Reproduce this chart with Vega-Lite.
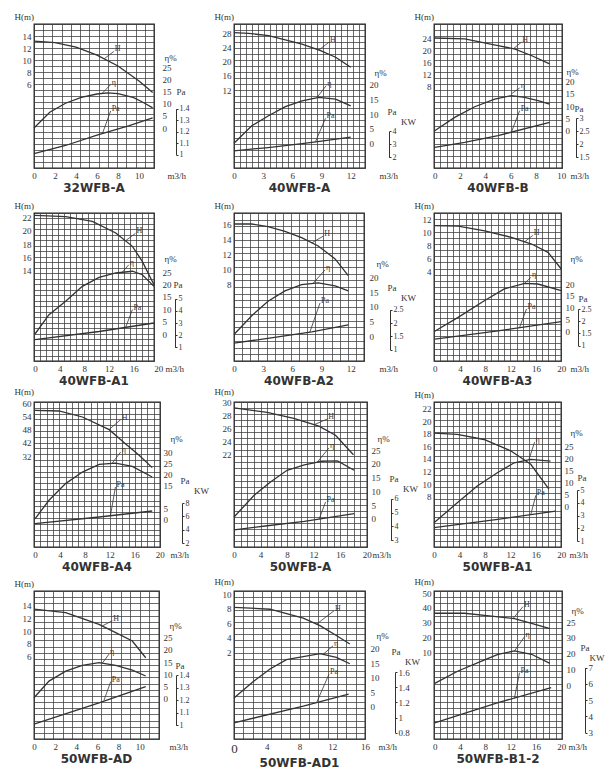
{
"$schema":"https://vega.github.io/schema/vega-lite/v6.json",
"background":"white",
"padding":{"left":13,"top":11,"right":0,"bottom":0},
"columns":3,
"spacing":{"row":41,"column":67},
"bounds":"flush",
"align":"all",
"datasets":{
"g":[
{"p":"32WFB-A","cols":13,"rows":24},{"p":"40WFB-A","cols":22,"rows":24},{"p":"40WFB-B","cols":20,"rows":24},
{"p":"40WFB-A1","cols":20,"rows":27},{"p":"40WFB-A2","cols":16,"rows":22},{"p":"40WFB-A3","cols":20,"rows":24},
{"p":"40WFB-A4","cols":20,"rows":25},{"p":"50WFB-A","cols":20,"rows":24},{"p":"50WFB-A1","cols":20,"rows":24},
{"p":"50WFB-AD","cols":13,"rows":24},{"p":"50WFB-AD1","cols":14,"rows":24},{"p":"50WFB-B1-2","cols":20,"rows":24}],
"c":[
{"p":"32WFB-A","c":"H","q":0,"v":13.2},{"p":"32WFB-A","c":"H","q":2,"v":12.95},{"p":"32WFB-A","c":"H","q":4,"v":12.2},{"p":"32WFB-A","c":"H","q":6,"v":10.9},{"p":"32WFB-A","c":"H","q":8,"v":9.1},{"p":"32WFB-A","c":"H","q":10,"v":6.6},{"p":"32WFB-A","c":"H","q":11.3,"v":4.7},
{"p":"32WFB-A","c":"E","q":0,"v":0},{"p":"32WFB-A","c":"E","q":1.5,"v":6.5},{"p":"32WFB-A","c":"E","q":3,"v":10.2},{"p":"32WFB-A","c":"E","q":4.5,"v":12.6},{"p":"32WFB-A","c":"E","q":6,"v":14},{"p":"32WFB-A","c":"E","q":7,"v":14.5},{"p":"32WFB-A","c":"E","q":8,"v":14.2},{"p":"32WFB-A","c":"E","q":9.5,"v":12.5},{"p":"32WFB-A","c":"E","q":10.5,"v":10.3},{"p":"32WFB-A","c":"E","q":11.3,"v":8.3},
{"p":"32WFB-A","c":"P","q":0,"v":1.01},{"p":"32WFB-A","c":"P","q":3,"v":1.08},{"p":"32WFB-A","c":"P","q":6,"v":1.17},{"p":"32WFB-A","c":"P","q":9,"v":1.25},{"p":"32WFB-A","c":"P","q":11.3,"v":1.32},
{"p":"32WFB-A","c":"H","n":1,"q":6.7,"v":10.3},{"p":"32WFB-A","c":"H","n":1,"q":7.6,"v":11.5,"t":"H"},
{"p":"32WFB-A","c":"E","n":1,"q":6.5,"v":14.3},{"p":"32WFB-A","c":"E","n":1,"q":7.3,"v":17.9,"t":"η"},
{"p":"32WFB-A","c":"P","n":1,"q":6.5,"v":1.18},{"p":"32WFB-A","c":"P","n":1,"q":7.3,"v":1.38,"t":"Pa"},

{"p":"40WFB-A","c":"H","q":0,"v":28.1},{"p":"40WFB-A","c":"H","q":1.5,"v":27.9},{"p":"40WFB-A","c":"H","q":3.55,"v":27.25},{"p":"40WFB-A","c":"H","q":7,"v":24.9},{"p":"40WFB-A","c":"H","q":8.9,"v":23.05},{"p":"40WFB-A","c":"H","q":10.45,"v":21.2},{"p":"40WFB-A","c":"H","q":12,"v":18.4},
{"p":"40WFB-A","c":"E","q":0,"v":0},{"p":"40WFB-A","c":"E","q":1.83,"v":6},{"p":"40WFB-A","c":"E","q":3.55,"v":9.4},{"p":"40WFB-A","c":"E","q":5.28,"v":12.5},{"p":"40WFB-A","c":"E","q":7,"v":14.5},{"p":"40WFB-A","c":"E","q":8.72,"v":15.7},{"p":"40WFB-A","c":"E","q":10.45,"v":15.1},{"p":"40WFB-A","c":"E","q":12,"v":12.8},
{"p":"40WFB-A","c":"P","q":0,"v":2.5},{"p":"40WFB-A","c":"P","q":3.5,"v":2.75},{"p":"40WFB-A","c":"P","q":7,"v":3.05},{"p":"40WFB-A","c":"P","q":9,"v":3.25},{"p":"40WFB-A","c":"P","q":12,"v":3.55},
{"p":"40WFB-A","c":"H","n":1,"q":8.72,"v":23.2},{"p":"40WFB-A","c":"H","n":1,"q":9.76,"v":25.4,"t":"H"},
{"p":"40WFB-A","c":"E","n":1,"q":8.55,"v":15.7},{"p":"40WFB-A","c":"E","n":1,"q":9.48,"v":19.7,"t":"η"},
{"p":"40WFB-A","c":"P","n":1,"q":8.38,"v":3.2},{"p":"40WFB-A","c":"P","n":1,"q":9.41,"v":5.0,"t":"Pa"},

{"p":"40WFB-B","c":"H","q":0,"v":24},{"p":"40WFB-B","c":"H","q":2.37,"v":23.7},{"p":"40WFB-B","c":"H","q":5,"v":21.5},{"p":"40WFB-B","c":"H","q":6.3,"v":20.4},{"p":"40WFB-B","c":"H","q":7.63,"v":18.2},{"p":"40WFB-B","c":"H","q":9.08,"v":15.4},
{"p":"40WFB-B","c":"E","q":0,"v":0},{"p":"40WFB-B","c":"E","q":1.58,"v":5.4},{"p":"40WFB-B","c":"E","q":3.16,"v":9.7},{"p":"40WFB-B","c":"E","q":4.74,"v":12.8},{"p":"40WFB-B","c":"E","q":6.05,"v":14.2},{"p":"40WFB-B","c":"E","q":7.1,"v":13.5},{"p":"40WFB-B","c":"E","q":8.16,"v":12.2},{"p":"40WFB-B","c":"E","q":9.08,"v":10.8},
{"p":"40WFB-B","c":"P","q":0,"v":1.88},{"p":"40WFB-B","c":"P","q":2.37,"v":2.07},{"p":"40WFB-B","c":"P","q":5,"v":2.33},{"p":"40WFB-B","c":"P","q":9.08,"v":2.83},
{"p":"40WFB-B","c":"H","n":1,"q":6.18,"v":20.3},{"p":"40WFB-B","c":"H","n":1,"q":6.84,"v":22.6,"t":"H"},
{"p":"40WFB-B","c":"E","n":1,"q":6.05,"v":14.9},{"p":"40WFB-B","c":"E","n":1,"q":6.71,"v":17.3,"t":"η"},
{"p":"40WFB-B","c":"P","n":1,"q":6.05,"v":2.45},{"p":"40WFB-B","c":"P","n":1,"q":6.71,"v":3.28,"t":"Pa"},

{"p":"40WFB-A1","c":"H","q":0,"v":22.3},{"p":"40WFB-A1","c":"H","q":4.97,"v":22.1},{"p":"40WFB-A1","c":"H","q":9.3,"v":21.4},{"p":"40WFB-A1","c":"H","q":13.1,"v":19.65},{"p":"40WFB-A1","c":"H","q":15.8,"v":17.65},{"p":"40WFB-A1","c":"H","q":17.4,"v":15.4},{"p":"40WFB-A1","c":"H","q":19.3,"v":11.9},
{"p":"40WFB-A1","c":"E","q":0,"v":0},{"p":"40WFB-A1","c":"E","q":2.27,"v":7.8},{"p":"40WFB-A1","c":"E","q":4.97,"v":13.2},{"p":"40WFB-A1","c":"E","q":7.68,"v":19.2},{"p":"40WFB-A1","c":"E","q":10.4,"v":22.8},{"p":"40WFB-A1","c":"E","q":13.1,"v":24.6},{"p":"40WFB-A1","c":"E","q":15.8,"v":25.3},{"p":"40WFB-A1","c":"E","q":17.4,"v":23.9},{"p":"40WFB-A1","c":"E","q":19.3,"v":19.2},
{"p":"40WFB-A1","c":"P","q":0,"v":1.63},{"p":"40WFB-A1","c":"P","q":10.4,"v":2.3},{"p":"40WFB-A1","c":"P","q":19.3,"v":3.0},
{"p":"40WFB-A1","c":"H","n":1,"q":14.7,"v":18.5},{"p":"40WFB-A1","c":"H","n":1,"q":16.3,"v":19.6,"t":"H"},
{"p":"40WFB-A1","c":"E","n":1,"q":14.16,"v":24.9},{"p":"40WFB-A1","c":"E","n":1,"q":15.2,"v":27.9,"t":"η"},
{"p":"40WFB-A1","c":"P","n":1,"q":14.7,"v":2.64},{"p":"40WFB-A1","c":"P","n":1,"q":15.8,"v":4.1,"t":"Pa"},

{"p":"40WFB-A2","c":"H","q":0,"v":16},{"p":"40WFB-A2","c":"H","q":1.8,"v":16},{"p":"40WFB-A2","c":"H","q":3.5,"v":15.66},{"p":"40WFB-A2","c":"H","q":5.24,"v":15.03},{"p":"40WFB-A2","c":"H","q":6.95,"v":14.2},{"p":"40WFB-A2","c":"H","q":8.66,"v":13.1},{"p":"40WFB-A2","c":"H","q":10.4,"v":11.4},{"p":"40WFB-A2","c":"H","q":11.75,"v":9.2},
{"p":"40WFB-A2","c":"E","q":0,"v":0.6},{"p":"40WFB-A2","c":"E","q":1.8,"v":6.9},{"p":"40WFB-A2","c":"E","q":3.5,"v":11.9},{"p":"40WFB-A2","c":"E","q":5.24,"v":15.4},{"p":"40WFB-A2","c":"E","q":6.95,"v":17.5},{"p":"40WFB-A2","c":"E","q":8.66,"v":18.1},{"p":"40WFB-A2","c":"E","q":10.4,"v":17.1},{"p":"40WFB-A2","c":"E","q":11.75,"v":15.4},
{"p":"40WFB-A2","c":"P","q":0,"v":1.25},{"p":"40WFB-A2","c":"P","q":4,"v":1.45},{"p":"40WFB-A2","c":"P","q":8,"v":1.67},{"p":"40WFB-A2","c":"P","q":11.75,"v":1.93},
{"p":"40WFB-A2","c":"H","n":1,"q":7.98,"v":13.5},{"p":"40WFB-A2","c":"H","n":1,"q":9.18,"v":14.4,"t":"H"},
{"p":"40WFB-A2","c":"E","n":1,"q":8.15,"v":18},{"p":"40WFB-A2","c":"E","n":1,"q":9.35,"v":22.5,"t":"η"},
{"p":"40WFB-A2","c":"P","n":1,"q":7.8,"v":1.66},{"p":"40WFB-A2","c":"P","n":1,"q":8.84,"v":2.75,"t":"Pa"},

{"p":"40WFB-A3","c":"H","q":0,"v":11},{"p":"40WFB-A3","c":"H","q":3.7,"v":10.9},{"p":"40WFB-A3","c":"H","q":7.9,"v":10.2},{"p":"40WFB-A3","c":"H","q":12.1,"v":9.2},{"p":"40WFB-A3","c":"H","q":15.3,"v":8.17},{"p":"40WFB-A3","c":"H","q":17.9,"v":6.9},{"p":"40WFB-A3","c":"H","q":20,"v":4.35},
{"p":"40WFB-A3","c":"E","q":0,"v":0},{"p":"40WFB-A3","c":"E","q":3.7,"v":5.9},{"p":"40WFB-A3","c":"E","q":7.9,"v":13},{"p":"40WFB-A3","c":"E","q":11,"v":17.9},{"p":"40WFB-A3","c":"E","q":14.2,"v":20.3},{"p":"40WFB-A3","c":"E","q":16.3,"v":20},{"p":"40WFB-A3","c":"E","q":20,"v":17.2},
{"p":"40WFB-A3","c":"P","q":0,"v":1.27},{"p":"40WFB-A3","c":"P","q":10,"v":1.61},{"p":"40WFB-A3","c":"P","q":20,"v":1.98},
{"p":"40WFB-A3","c":"H","n":1,"q":14.2,"v":8.5},{"p":"40WFB-A3","c":"H","n":1,"q":15.5,"v":9.5,"t":"H"},
{"p":"40WFB-A3","c":"E","n":1,"q":14.2,"v":20.3},{"p":"40WFB-A3","c":"E","n":1,"q":15.2,"v":22.8,"t":"η"},
{"p":"40WFB-A3","c":"P","n":1,"q":13.4,"v":1.74},{"p":"40WFB-A3","c":"P","n":1,"q":14.5,"v":2.5,"t":"Pa"},

{"p":"40WFB-A4","c":"H","q":0,"v":56.7},{"p":"40WFB-A4","c":"H","q":3.85,"v":56.4},{"p":"40WFB-A4","c":"H","q":7.6,"v":53.7},{"p":"40WFB-A4","c":"H","q":11.9,"v":48},{"p":"40WFB-A4","c":"H","q":14.5,"v":41.7},{"p":"40WFB-A4","c":"H","q":16.7,"v":36.5},{"p":"40WFB-A4","c":"H","q":18.8,"v":30.9},
{"p":"40WFB-A4","c":"E","q":0,"v":0.4},{"p":"40WFB-A4","c":"E","q":2.25,"v":8.6},{"p":"40WFB-A4","c":"E","q":4.9,"v":16},{"p":"40WFB-A4","c":"E","q":7.6,"v":21.1},{"p":"40WFB-A4","c":"E","q":10.3,"v":24.5},{"p":"40WFB-A4","c":"E","q":12.9,"v":25.1},{"p":"40WFB-A4","c":"E","q":15.6,"v":23.6},{"p":"40WFB-A4","c":"E","q":18.8,"v":18.9},
{"p":"40WFB-A4","c":"P","q":0,"v":4.9},{"p":"40WFB-A4","c":"P","q":10.3,"v":5.9},{"p":"40WFB-A4","c":"P","q":18.8,"v":6.8},
{"p":"40WFB-A4","c":"H","n":1,"q":11.87,"v":48},{"p":"40WFB-A4","c":"H","n":1,"q":13.74,"v":52.5,"t":"H"},
{"p":"40WFB-A4","c":"E","n":1,"q":12.4,"v":25.1},{"p":"40WFB-A4","c":"E","n":1,"q":13.74,"v":30,"t":"η"},
{"p":"40WFB-A4","c":"P","n":1,"q":12.1,"v":6.1},{"p":"40WFB-A4","c":"P","n":1,"q":12.9,"v":10.4,"t":"Pa"},

{"p":"50WFB-A","c":"H","q":0,"v":29.2},{"p":"50WFB-A","c":"H","q":5,"v":28.5},{"p":"50WFB-A","c":"H","q":9,"v":27.6},{"p":"50WFB-A","c":"H","q":12.8,"v":26.4},{"p":"50WFB-A","c":"H","q":15.3,"v":25},{"p":"50WFB-A","c":"H","q":18,"v":22},
{"p":"50WFB-A","c":"E","q":0,"v":0.6},{"p":"50WFB-A","c":"E","q":3,"v":8.5},{"p":"50WFB-A","c":"E","q":5.5,"v":13.4},{"p":"50WFB-A","c":"E","q":8,"v":17.7},{"p":"50WFB-A","c":"E","q":10.6,"v":19.7},{"p":"50WFB-A","c":"E","q":12.1,"v":20.4},{"p":"50WFB-A","c":"E","q":13.1,"v":21},{"p":"50WFB-A","c":"E","q":15.6,"v":21.1},{"p":"50WFB-A","c":"E","q":18.1,"v":17.7},
{"p":"50WFB-A","c":"P","q":0,"v":3.75},{"p":"50WFB-A","c":"P","q":5,"v":4.05},{"p":"50WFB-A","c":"P","q":10.6,"v":4.37},{"p":"50WFB-A","c":"P","q":18.1,"v":4.92},
{"p":"50WFB-A","c":"H","n":1,"q":12.06,"v":26.6},{"p":"50WFB-A","c":"H","n":1,"q":14.07,"v":27.5,"t":"H"},
{"p":"50WFB-A","c":"E","n":1,"q":12.56,"v":20.7},{"p":"50WFB-A","c":"E","n":1,"q":14.3,"v":25.8,"t":"η"},
{"p":"50WFB-A","c":"P","n":1,"q":12.8,"v":4.5},{"p":"50WFB-A","c":"P","n":1,"q":13.8,"v":5.76,"t":"Pa"},

{"p":"50WFB-A1","c":"H","q":0,"v":18.1},{"p":"50WFB-A1","c":"H","q":3.66,"v":17.9},{"p":"50WFB-A1","c":"H","q":7.85,"v":17.1},{"p":"50WFB-A1","c":"H","q":12.04,"v":15.3},{"p":"50WFB-A1","c":"H","q":15.2,"v":13.15},{"p":"50WFB-A1","c":"H","q":18.06,"v":9.2},
{"p":"50WFB-A1","c":"E","q":0,"v":-6.6},{"p":"50WFB-A1","c":"E","q":3.66,"v":1.6},{"p":"50WFB-A1","c":"E","q":6.8,"v":8.5},{"p":"50WFB-A1","c":"E","q":9.95,"v":14},{"p":"50WFB-A1","c":"E","q":12.6,"v":18.1},{"p":"50WFB-A1","c":"E","q":15.2,"v":19.5},{"p":"50WFB-A1","c":"E","q":18.3,"v":18.8},
{"p":"50WFB-A1","c":"P","q":0,"v":2.05},{"p":"50WFB-A1","c":"P","q":10,"v":2.7},{"p":"50WFB-A1","c":"P","q":19.1,"v":3.35},
{"p":"50WFB-A1","c":"E","n":1,"q":14.9,"v":19.3},{"p":"50WFB-A1","c":"E","n":1,"q":15.8,"v":26.6,"t":"η"},
{"p":"50WFB-A1","c":"P","n":1,"q":15.2,"v":3.07},{"p":"50WFB-A1","c":"P","n":1,"q":16,"v":4.58,"t":"Pa"},

{"p":"50WFB-AD","c":"H","q":0,"v":13.4},{"p":"50WFB-AD","c":"H","q":3,"v":12.86},{"p":"50WFB-AD","c":"H","q":6.15,"v":11.04},{"p":"50WFB-AD","c":"H","q":7.73,"v":9.74},{"p":"50WFB-AD","c":"H","q":9.3,"v":8.44},{"p":"50WFB-AD","c":"H","q":10.57,"v":5.84},
{"p":"50WFB-AD","c":"E","q":0,"v":0.4},{"p":"50WFB-AD","c":"E","q":1.42,"v":7.2},{"p":"50WFB-AD","c":"E","q":3,"v":11.3},{"p":"50WFB-AD","c":"E","q":4.57,"v":13.7},{"p":"50WFB-AD","c":"E","q":6.15,"v":14.75},{"p":"50WFB-AD","c":"E","q":7.73,"v":13.7},{"p":"50WFB-AD","c":"E","q":9.3,"v":11.7},{"p":"50WFB-AD","c":"E","q":10.57,"v":9.3},
{"p":"50WFB-AD","c":"P","q":0,"v":1.01},{"p":"50WFB-AD","c":"P","q":6.15,"v":1.18},{"p":"50WFB-AD","c":"P","q":10.57,"v":1.31},
{"p":"50WFB-AD","c":"H","n":1,"q":6.47,"v":10.8},{"p":"50WFB-AD","c":"H","n":1,"q":7.41,"v":11.6,"t":"H"},
{"p":"50WFB-AD","c":"E","n":1,"q":6.47,"v":14.6},{"p":"50WFB-AD","c":"E","n":1,"q":7.1,"v":18.3,"t":"η"},
{"p":"50WFB-AD","c":"P","n":1,"q":6.62,"v":1.2},{"p":"50WFB-AD","c":"P","n":1,"q":7.26,"v":1.35,"t":"Pa"},

{"p":"50WFB-AD1","c":"H","q":0,"v":8.2},{"p":"50WFB-AD1","c":"H","q":4.4,"v":7.93},{"p":"50WFB-AD1","c":"H","q":8.46,"v":6.69},{"p":"50WFB-AD1","c":"H","q":10.5,"v":5.66},{"p":"50WFB-AD1","c":"H","q":12.5,"v":4.28},{"p":"50WFB-AD1","c":"H","q":14.15,"v":3.1},
{"p":"50WFB-AD1","c":"E","q":0,"v":3},{"p":"50WFB-AD1","c":"E","q":2.36,"v":8.7},{"p":"50WFB-AD1","c":"E","q":4.4,"v":13},{"p":"50WFB-AD1","c":"E","q":6.4,"v":16.2},{"p":"50WFB-AD1","c":"E","q":8.46,"v":17.3},{"p":"50WFB-AD1","c":"E","q":10.5,"v":18.3},{"p":"50WFB-AD1","c":"E","q":12.5,"v":17},{"p":"50WFB-AD1","c":"E","q":14.15,"v":14.8},
{"p":"50WFB-AD1","c":"P","q":0,"v":0.93},{"p":"50WFB-AD1","c":"P","q":8.46,"v":1.15},{"p":"50WFB-AD1","c":"P","q":14,"v":1.31},
{"p":"50WFB-AD1","c":"H","n":1,"q":10.1,"v":5.87},{"p":"50WFB-AD1","c":"H","n":1,"q":12.2,"v":7.7,"t":"H"},
{"p":"50WFB-AD1","c":"E","n":1,"q":10.9,"v":18.1},{"p":"50WFB-AD1","c":"E","n":1,"q":12.1,"v":21,"t":"η"},
{"p":"50WFB-AD1","c":"P","n":1,"q":10.1,"v":1.2},{"p":"50WFB-AD1","c":"P","n":1,"q":11.6,"v":1.57,"t":"Pa"},

{"p":"50WFB-B1-2","c":"H","q":0,"v":36.4},{"p":"50WFB-B1-2","c":"H","q":4.7,"v":36.4},{"p":"50WFB-B1-2","c":"H","q":8.95,"v":34.5},{"p":"50WFB-B1-2","c":"H","q":12.6,"v":32.7},{"p":"50WFB-B1-2","c":"H","q":15.3,"v":29.5},{"p":"50WFB-B1-2","c":"H","q":18.2,"v":25.9},
{"p":"50WFB-B1-2","c":"E","q":0,"v":1.06},{"p":"50WFB-B1-2","c":"E","q":3.7,"v":8.9},{"p":"50WFB-B1-2","c":"E","q":7.4,"v":15.2},{"p":"50WFB-B1-2","c":"E","q":10,"v":19.5},{"p":"50WFB-B1-2","c":"E","q":12.6,"v":21.6},{"p":"50WFB-B1-2","c":"E","q":15.3,"v":19.5},{"p":"50WFB-B1-2","c":"E","q":18.2,"v":13.7},
{"p":"50WFB-B1-2","c":"P","q":0,"v":3.6},{"p":"50WFB-B1-2","c":"P","q":10,"v":4.85},{"p":"50WFB-B1-2","c":"P","q":18.4,"v":5.77},
{"p":"50WFB-B1-2","c":"H","n":1,"q":12.37,"v":32.8},{"p":"50WFB-B1-2","c":"H","n":1,"q":13.95,"v":40.9,"t":"H"},
{"p":"50WFB-B1-2","c":"E","n":1,"q":12.6,"v":21.6},{"p":"50WFB-B1-2","c":"E","n":1,"q":14.2,"v":30.7,"t":"η"},
{"p":"50WFB-B1-2","c":"P","n":1,"q":12.6,"v":5.15},{"p":"50WFB-B1-2","c":"P","n":1,"q":13.4,"v":6.69,"t":"Pa"}
]},
"concat":[
{"width":120,"height":144,"title":{"text":"32WFB-A"},"resolve":{"scale":{"x":"independent","y":"independent"},"axis":{"x":"independent","y":"independent"}},"layer":[
{"data":{"name":"g"},"transform":[{"filter":"datum.p=='32WFB-A'"}],"mark":{"type":"point","opacity":0},"encoding":{"x":{"field":"cols","type":"quantitative","scale":{"domain":[0,13],"nice":false,"zero":false},"axis":{"orient":"bottom","grid":true,"labels":false,"tickCount":13,"title":null}},"y":{"field":"rows","type":"quantitative","scale":{"domain":[0,24],"nice":false,"zero":false},"axis":{"orient":"left","grid":true,"labels":false,"tickCount":24,"title":null}}}},
{"data":{"name":"c"},"transform":[{"filter":"datum.p=='32WFB-A'&&datum.c=='H'"}],"encoding":{"x":{"field":"q","type":"quantitative","scale":{"domain":[0,10],"range":[0,105],"nice":false,"zero":false},"axis":{"orient":"bottom","values":[0,2,4,6,8,10],"format":".2~f","title":"m3/h","titleX":133}},"y":{"field":"v","type":"quantitative","scale":{"domain":[6,14],"range":[60.7,12.3],"nice":false,"zero":false},"axis":{"orient":"left","values":[6,8,10,12,14],"format":".2~f","title":"H(m)"}}},"layer":[{"transform":[{"filter":"!datum.n"}],"mark":"line"},{"transform":[{"filter":"datum.n"}],"mark":{"type":"line","strokeWidth":0.8}},{"transform":[{"filter":"datum.t"}],"mark":"text","encoding":{"text":{"field":"t"}}}]},
{"data":{"name":"c"},"transform":[{"filter":"datum.p=='32WFB-A'&&datum.c=='E'"}],"encoding":{"x":{"field":"q","type":"quantitative","scale":{"domain":[0,10],"range":[0,105],"nice":false,"zero":false},"axis":null},"y":{"field":"v","type":"quantitative","scale":{"domain":[0,25],"range":[104,43.3],"nice":false,"zero":false},"axis":{"orient":"right","offset":5,"values":[0,5,10,15,20,25],"format":".2~f","title":"η%","titleX":5,"titleY":33}}},"layer":[{"transform":[{"filter":"!datum.n"}],"mark":"line"},{"transform":[{"filter":"datum.n"}],"mark":{"type":"line","strokeWidth":0.8}},{"transform":[{"filter":"datum.t"}],"mark":"text","encoding":{"text":{"field":"t"}}}]},
{"data":{"name":"c"},"transform":[{"filter":"datum.p=='32WFB-A'&&datum.c=='P'"}],"encoding":{"x":{"field":"q","type":"quantitative","scale":{"domain":[0,10],"range":[0,105],"nice":false,"zero":false},"axis":null},"y":{"field":"v","type":"quantitative","scale":{"domain":[1,1.4],"range":[130.7,84.7],"nice":false,"zero":false},"axis":{"orient":"right","offset":22,"values":[1,1.1,1.2,1.3,1.4],"format":".2~f","domain":true,"ticks":true,"tickSize":2,"labelPadding":1,"labelFontSize":8,"title":"Pa","titleX":0,"titleY":67}}},"layer":[{"transform":[{"filter":"!datum.n"}],"mark":"line"},{"transform":[{"filter":"datum.n"}],"mark":{"type":"line","strokeWidth":0.8}},{"transform":[{"filter":"datum.t"}],"mark":"text","encoding":{"text":{"field":"t"}}}]}
]},
{"width":131,"height":144,"title":{"text":"40WFB-A"},"resolve":{"scale":{"x":"independent","y":"independent"},"axis":{"x":"independent","y":"independent"}},"layer":[
{"data":{"name":"g"},"transform":[{"filter":"datum.p=='40WFB-A'"}],"mark":{"type":"point","opacity":0},"encoding":{"x":{"field":"cols","type":"quantitative","scale":{"domain":[0,22],"nice":false,"zero":false},"axis":{"orient":"bottom","grid":true,"labels":false,"tickCount":22,"title":null}},"y":{"field":"rows","type":"quantitative","scale":{"domain":[0,24],"nice":false,"zero":false},"axis":{"orient":"left","grid":true,"labels":false,"tickCount":24,"title":null}}}},
{"data":{"name":"c"},"transform":[{"filter":"datum.p=='40WFB-A'&&datum.c=='H'"}],"encoding":{"x":{"field":"q","type":"quantitative","scale":{"domain":[0,12],"range":[0,116.7],"nice":false,"zero":false},"axis":{"orient":"bottom","values":[0,3,6,9,12],"format":".2~f","title":"m3/h","titleX":145}},"y":{"field":"v","type":"quantitative","scale":{"domain":[12,28],"range":[66,9],"nice":false,"zero":false},"axis":{"orient":"left","values":[12,16,20,24,28],"format":".2~f","title":"H(m)"}}},"layer":[{"transform":[{"filter":"!datum.n"}],"mark":"line"},{"transform":[{"filter":"datum.n"}],"mark":{"type":"line","strokeWidth":0.8}},{"transform":[{"filter":"datum.t"}],"mark":"text","encoding":{"text":{"field":"t"}}}]},
{"data":{"name":"c"},"transform":[{"filter":"datum.p=='40WFB-A'&&datum.c=='E'"}],"encoding":{"x":{"field":"q","type":"quantitative","scale":{"domain":[0,12],"range":[0,116.7],"nice":false,"zero":false},"axis":null},"y":{"field":"v","type":"quantitative","scale":{"domain":[0,20],"range":[119.3,60.7],"nice":false,"zero":false},"axis":{"orient":"right","offset":1,"values":[0,5,10,15,20],"format":".2~f","title":"η%","titleX":8,"titleY":48}}},"layer":[{"transform":[{"filter":"!datum.n"}],"mark":"line"},{"transform":[{"filter":"datum.n"}],"mark":{"type":"line","strokeWidth":0.8}},{"transform":[{"filter":"datum.t"}],"mark":"text","encoding":{"text":{"field":"t"}}}]},
{"data":{"name":"c"},"transform":[{"filter":"datum.p=='40WFB-A'&&datum.c=='P'"}],"encoding":{"x":{"field":"q","type":"quantitative","scale":{"domain":[0,12],"range":[0,116.7],"nice":false,"zero":false},"axis":null},"y":{"field":"v","type":"quantitative","scale":{"domain":[2,4],"range":[133.3,107.3],"nice":false,"zero":false},"axis":{"orient":"right","offset":24,"values":[2,3,4],"format":".2~f","domain":true,"ticks":true,"tickSize":2,"labelPadding":1,"labelFontSize":8,"title":["Pa","\u200b\u00a0\u00a0\u00a0\u00a0\u00a0\u00a0KW"],"titleLineHeight":10,"titleX":-2,"titleY":87}}},"layer":[{"transform":[{"filter":"!datum.n"}],"mark":"line"},{"transform":[{"filter":"datum.n"}],"mark":{"type":"line","strokeWidth":0.8}},{"transform":[{"filter":"datum.t"}],"mark":"text","encoding":{"text":{"field":"t"}}}]}
]},
{"width":128,"height":144,"title":{"text":"40WFB-B"},"resolve":{"scale":{"x":"independent","y":"independent"},"axis":{"x":"independent","y":"independent"}},"layer":[
{"data":{"name":"g"},"transform":[{"filter":"datum.p=='40WFB-B'"}],"mark":{"type":"point","opacity":0},"encoding":{"x":{"field":"cols","type":"quantitative","scale":{"domain":[0,20],"nice":false,"zero":false},"axis":{"orient":"bottom","grid":true,"labels":false,"tickCount":20,"title":null}},"y":{"field":"rows","type":"quantitative","scale":{"domain":[0,24],"nice":false,"zero":false},"axis":{"orient":"left","grid":true,"labels":false,"tickCount":24,"title":null}}}},
{"data":{"name":"c"},"transform":[{"filter":"datum.p=='40WFB-B'&&datum.c=='H'"}],"encoding":{"x":{"field":"q","type":"quantitative","scale":{"domain":[0,10],"range":[0.7,127.3],"nice":false,"zero":false},"axis":{"orient":"bottom","values":[0,2,4,6,8,10],"format":".2~f","title":"m3/h","titleX":136}},"y":{"field":"v","type":"quantitative","scale":{"domain":[8,24],"range":[62.3,14],"nice":false,"zero":false},"axis":{"orient":"left","values":[8,12,16,20,24],"format":".2~f","title":"H(m)"}}},"layer":[{"transform":[{"filter":"!datum.n"}],"mark":"line"},{"transform":[{"filter":"datum.n"}],"mark":{"type":"line","strokeWidth":0.8}},{"transform":[{"filter":"datum.t"}],"mark":"text","encoding":{"text":{"field":"t"}}}]},
{"data":{"name":"c"},"transform":[{"filter":"datum.p=='40WFB-B'&&datum.c=='E'"}],"encoding":{"x":{"field":"q","type":"quantitative","scale":{"domain":[0,10],"range":[0.7,127.3],"nice":false,"zero":false},"axis":null},"y":{"field":"v","type":"quantitative","scale":{"domain":[0,20],"range":[106.7,57.3],"nice":false,"zero":false},"axis":{"orient":"right","offset":0,"values":[0,5,10,15,20],"format":".2~f","title":"η%","titleX":4,"titleY":47}}},"layer":[{"transform":[{"filter":"!datum.n"}],"mark":"line"},{"transform":[{"filter":"datum.n"}],"mark":{"type":"line","strokeWidth":0.8}},{"transform":[{"filter":"datum.t"}],"mark":"text","encoding":{"text":{"field":"t"}}}]},
{"data":{"name":"c"},"transform":[{"filter":"datum.p=='40WFB-B'&&datum.c=='P'"}],"encoding":{"x":{"field":"q","type":"quantitative","scale":{"domain":[0,10],"range":[0.7,127.3],"nice":false,"zero":false},"axis":null},"y":{"field":"v","type":"quantitative","scale":{"domain":[1.5,3],"range":[133.3,94],"nice":false,"zero":false},"axis":{"orient":"right","offset":14,"values":[1.5,2,2.5,3],"format":".2~f","domain":true,"ticks":true,"tickSize":2,"labelPadding":1,"labelFontSize":8,"title":"Pa","titleX":-2,"titleY":84}}},"layer":[{"transform":[{"filter":"!datum.n"}],"mark":"line"},{"transform":[{"filter":"datum.n"}],"mark":{"type":"line","strokeWidth":0.8}},{"transform":[{"filter":"datum.t"}],"mark":"text","encoding":{"text":{"field":"t"}}}]}
]},
{"width":120,"height":148,"title":{"text":"40WFB-A1"},"resolve":{"scale":{"x":"independent","y":"independent"},"axis":{"x":"independent","y":"independent"}},"layer":[
{"data":{"name":"g"},"transform":[{"filter":"datum.p=='40WFB-A1'"}],"mark":{"type":"point","opacity":0},"encoding":{"x":{"field":"cols","type":"quantitative","scale":{"domain":[0,20],"nice":false,"zero":false},"axis":{"orient":"bottom","grid":true,"labels":false,"tickCount":20,"title":null}},"y":{"field":"rows","type":"quantitative","scale":{"domain":[0,27],"nice":false,"zero":false},"axis":{"orient":"left","grid":true,"labels":false,"tickCount":27,"title":null}}}},
{"data":{"name":"c"},"transform":[{"filter":"datum.p=='40WFB-A1'&&datum.c=='H'"}],"encoding":{"x":{"field":"q","type":"quantitative","scale":{"domain":[0,20],"range":[1,124.3],"nice":false,"zero":false},"axis":{"orient":"bottom","values":[0,4,8,12,16,20],"format":".2~f","title":"m3/h","titleX":131}},"y":{"field":"v","type":"quantitative","scale":{"domain":[14,22],"range":[57.7,4.3],"nice":false,"zero":false},"axis":{"orient":"left","values":[14,16,18,20,22],"format":".2~f","title":"H(m)"}}},"layer":[{"transform":[{"filter":"!datum.n"}],"mark":"line"},{"transform":[{"filter":"datum.n"}],"mark":{"type":"line","strokeWidth":0.8}},{"transform":[{"filter":"datum.t"}],"mark":"text","encoding":{"text":{"field":"t"}}}]},
{"data":{"name":"c"},"transform":[{"filter":"datum.p=='40WFB-A1'&&datum.c=='E'"}],"encoding":{"x":{"field":"q","type":"quantitative","scale":{"domain":[0,20],"range":[1,124.3],"nice":false,"zero":false},"axis":null},"y":{"field":"v","type":"quantitative","scale":{"domain":[0,25],"range":[121,59],"nice":false,"zero":false},"axis":{"orient":"right","offset":5,"values":[0,5,10,15,20,25],"format":".2~f","title":"η%","titleX":5,"titleY":45}}},"layer":[{"transform":[{"filter":"!datum.n"}],"mark":"line"},{"transform":[{"filter":"datum.n"}],"mark":{"type":"line","strokeWidth":0.8}},{"transform":[{"filter":"datum.t"}],"mark":"text","encoding":{"text":{"field":"t"}}}]},
{"data":{"name":"c"},"transform":[{"filter":"datum.p=='40WFB-A1'&&datum.c=='P'"}],"encoding":{"x":{"field":"q","type":"quantitative","scale":{"domain":[0,20],"range":[1,124.3],"nice":false,"zero":false},"axis":null},"y":{"field":"v","type":"quantitative","scale":{"domain":[1,5],"range":[134.3,85.7],"nice":false,"zero":false},"axis":{"orient":"right","offset":21,"values":[1,2,3,4,5],"format":".2~f","domain":true,"ticks":true,"tickSize":2,"labelPadding":1,"labelFontSize":8,"title":"Pa","titleX":-2,"titleY":71.7}}},"layer":[{"transform":[{"filter":"!datum.n"}],"mark":"line"},{"transform":[{"filter":"datum.n"}],"mark":{"type":"line","strokeWidth":0.8}},{"transform":[{"filter":"datum.t"}],"mark":"text","encoding":{"text":{"field":"t"}}}]}
]},
{"width":130,"height":148,"title":{"text":"40WFB-A2"},"resolve":{"scale":{"x":"independent","y":"independent"},"axis":{"x":"independent","y":"independent"}},"layer":[
{"data":{"name":"g"},"transform":[{"filter":"datum.p=='40WFB-A2'"}],"mark":{"type":"point","opacity":0},"encoding":{"x":{"field":"cols","type":"quantitative","scale":{"domain":[0,16],"nice":false,"zero":false},"axis":{"orient":"bottom","grid":true,"labels":false,"tickCount":16,"title":null}},"y":{"field":"rows","type":"quantitative","scale":{"domain":[0,22],"nice":false,"zero":false},"axis":{"orient":"left","grid":true,"labels":false,"tickCount":22,"title":null}}}},
{"data":{"name":"c"},"transform":[{"filter":"datum.p=='40WFB-A2'&&datum.c=='H'"}],"encoding":{"x":{"field":"q","type":"quantitative","scale":{"domain":[0,12],"range":[0,116.7],"nice":false,"zero":false},"axis":{"orient":"bottom","values":[0,3,6,9,12],"format":".2~f","title":"m3/h","titleX":145}},"y":{"field":"v","type":"quantitative","scale":{"domain":[8,16],"range":[71.7,11],"nice":false,"zero":false},"axis":{"orient":"left","values":[8,10,12,14,16],"format":".2~f","title":"H(m)"}}},"layer":[{"transform":[{"filter":"!datum.n"}],"mark":"line"},{"transform":[{"filter":"datum.n"}],"mark":{"type":"line","strokeWidth":0.8}},{"transform":[{"filter":"datum.t"}],"mark":"text","encoding":{"text":{"field":"t"}}}]},
{"data":{"name":"c"},"transform":[{"filter":"datum.p=='40WFB-A2'&&datum.c=='E'"}],"encoding":{"x":{"field":"q","type":"quantitative","scale":{"domain":[0,12],"range":[0,116.7],"nice":false,"zero":false},"axis":null},"y":{"field":"v","type":"quantitative","scale":{"domain":[0,20],"range":[123.3,64.3],"nice":false,"zero":false},"axis":{"orient":"right","offset":2,"values":[0,5,10,15,20],"format":".2~f","title":"η%","titleX":10,"titleY":50}}},"layer":[{"transform":[{"filter":"!datum.n"}],"mark":"line"},{"transform":[{"filter":"datum.n"}],"mark":{"type":"line","strokeWidth":0.8}},{"transform":[{"filter":"datum.t"}],"mark":"text","encoding":{"text":{"field":"t"}}}]},
{"data":{"name":"c"},"transform":[{"filter":"datum.p=='40WFB-A2'&&datum.c=='P'"}],"encoding":{"x":{"field":"q","type":"quantitative","scale":{"domain":[0,12],"range":[0,116.7],"nice":false,"zero":false},"axis":null},"y":{"field":"v","type":"quantitative","scale":{"domain":[1,2.5],"range":[136.7,96.7],"nice":false,"zero":false},"axis":{"orient":"right","offset":26,"values":[1,1.5,2,2.5],"format":".2~f","domain":true,"ticks":true,"tickSize":2,"labelPadding":1,"labelFontSize":8,"title":["Pa","\u200b\u00a0\u00a0\u00a0\u00a0\u00a0\u00a0KW"],"titleLineHeight":10,"titleX":-3,"titleY":74}}},"layer":[{"transform":[{"filter":"!datum.n"}],"mark":"line"},{"transform":[{"filter":"datum.n"}],"mark":{"type":"line","strokeWidth":0.8}},{"transform":[{"filter":"datum.t"}],"mark":"text","encoding":{"text":{"field":"t"}}}]}
]},
{"width":127,"height":148,"title":{"text":"40WFB-A3"},"resolve":{"scale":{"x":"independent","y":"independent"},"axis":{"x":"independent","y":"independent"}},"layer":[
{"data":{"name":"g"},"transform":[{"filter":"datum.p=='40WFB-A3'"}],"mark":{"type":"point","opacity":0},"encoding":{"x":{"field":"cols","type":"quantitative","scale":{"domain":[0,20],"nice":false,"zero":false},"axis":{"orient":"bottom","grid":true,"labels":false,"tickCount":20,"title":null}},"y":{"field":"rows","type":"quantitative","scale":{"domain":[0,24],"nice":false,"zero":false},"axis":{"orient":"left","grid":true,"labels":false,"tickCount":24,"title":null}}}},
{"data":{"name":"c"},"transform":[{"filter":"datum.p=='40WFB-A3'&&datum.c=='H'"}],"encoding":{"x":{"field":"q","type":"quantitative","scale":{"domain":[0,20],"range":[0.7,127.3],"nice":false,"zero":false},"axis":{"orient":"bottom","values":[0,4,8,12,16,20],"format":".2~f","title":"m3/h","titleX":136}},"y":{"field":"v","type":"quantitative","scale":{"domain":[4,12],"range":[58.3,6],"nice":false,"zero":false},"axis":{"orient":"left","values":[4,6,8,10,12],"format":".2~f","title":"H(m)"}}},"layer":[{"transform":[{"filter":"!datum.n"}],"mark":"line"},{"transform":[{"filter":"datum.n"}],"mark":{"type":"line","strokeWidth":0.8}},{"transform":[{"filter":"datum.t"}],"mark":"text","encoding":{"text":{"field":"t"}}}]},
{"data":{"name":"c"},"transform":[{"filter":"datum.p=='40WFB-A3'&&datum.c=='E'"}],"encoding":{"x":{"field":"q","type":"quantitative","scale":{"domain":[0,20],"range":[0.7,127.3],"nice":false,"zero":false},"axis":null},"y":{"field":"v","type":"quantitative","scale":{"domain":[0,20],"range":[118.3,71],"nice":false,"zero":false},"axis":{"orient":"right","offset":1,"values":[0,5,10,15,20],"format":".2~f","title":"η%","titleX":8,"titleY":45}}},"layer":[{"transform":[{"filter":"!datum.n"}],"mark":"line"},{"transform":[{"filter":"datum.n"}],"mark":{"type":"line","strokeWidth":0.8}},{"transform":[{"filter":"datum.t"}],"mark":"text","encoding":{"text":{"field":"t"}}}]},
{"data":{"name":"c"},"transform":[{"filter":"datum.p=='40WFB-A3'&&datum.c=='P'"}],"encoding":{"x":{"field":"q","type":"quantitative","scale":{"domain":[0,20],"range":[0.7,127.3],"nice":false,"zero":false},"axis":null},"y":{"field":"v","type":"quantitative","scale":{"domain":[1,2.5],"range":[132.7,96],"nice":false,"zero":false},"axis":{"orient":"right","offset":17,"values":[1,1.5,2,2.5],"format":".2~f","domain":true,"ticks":true,"tickSize":2,"labelPadding":1,"labelFontSize":8,"title":"Pa","titleX":0,"titleY":85}}},"layer":[{"transform":[{"filter":"!datum.n"}],"mark":"line"},{"transform":[{"filter":"datum.n"}],"mark":{"type":"line","strokeWidth":0.8}},{"transform":[{"filter":"datum.t"}],"mark":"text","encoding":{"text":{"field":"t"}}}]}
]},
{"width":126,"height":145,"title":{"text":"40WFB-A4"},"resolve":{"scale":{"x":"independent","y":"independent"},"axis":{"x":"independent","y":"independent"}},"layer":[
{"data":{"name":"g"},"transform":[{"filter":"datum.p=='40WFB-A4'"}],"mark":{"type":"point","opacity":0},"encoding":{"x":{"field":"cols","type":"quantitative","scale":{"domain":[0,20],"nice":false,"zero":false},"axis":{"orient":"bottom","grid":true,"labels":false,"tickCount":20,"title":null}},"y":{"field":"rows","type":"quantitative","scale":{"domain":[0,25],"nice":false,"zero":false},"axis":{"orient":"left","grid":true,"labels":false,"tickCount":25,"title":null}}}},
{"data":{"name":"c"},"transform":[{"filter":"datum.p=='40WFB-A4'&&datum.c=='H'"}],"encoding":{"x":{"field":"q","type":"quantitative","scale":{"domain":[0,20],"range":[1,125.7],"nice":false,"zero":false},"axis":{"orient":"bottom","values":[0,4,8,12,16,20],"format":".2~f","title":"m3/h","titleX":136}},"y":{"field":"v","type":"quantitative","scale":{"domain":[36,60],"range":[54.3,1],"nice":false,"zero":false},"axis":{"orient":"left","values":[36,42,48,54,60],"format":".2~f","labelExpr":"datum.value==36?'32':datum.label","title":"H(m)","titleY":-11}}},"layer":[{"transform":[{"filter":"!datum.n"}],"mark":"line"},{"transform":[{"filter":"datum.n"}],"mark":{"type":"line","strokeWidth":0.8}},{"transform":[{"filter":"datum.t"}],"mark":"text","encoding":{"text":{"field":"t"}}}]},
{"data":{"name":"c"},"transform":[{"filter":"datum.p=='40WFB-A4'&&datum.c=='E'"}],"encoding":{"x":{"field":"q","type":"quantitative","scale":{"domain":[0,20],"range":[1,125.7],"nice":false,"zero":false},"axis":null},"y":{"field":"v","type":"quantitative","scale":{"domain":[0,30],"range":[117.7,50],"nice":false,"zero":false},"axis":{"orient":"right","offset":0,"values":[0,5,15,20,25,30],"format":".2~f","title":"η%","titleX":10,"titleY":36.7}}},"layer":[{"transform":[{"filter":"!datum.n"}],"mark":"line"},{"transform":[{"filter":"datum.n"}],"mark":{"type":"line","strokeWidth":0.8}},{"transform":[{"filter":"datum.t"}],"mark":"text","encoding":{"text":{"field":"t"}}}]},
{"data":{"name":"c"},"transform":[{"filter":"datum.p=='40WFB-A4'&&datum.c=='P'"}],"encoding":{"x":{"field":"q","type":"quantitative","scale":{"domain":[0,20],"range":[1,125.7],"nice":false,"zero":false},"axis":null},"y":{"field":"v","type":"quantitative","scale":{"domain":[2,8],"range":[141,101],"nice":false,"zero":false},"axis":{"orient":"right","offset":22,"values":[2,4,6,8],"format":".2~f","domain":true,"ticks":true,"tickSize":2,"labelPadding":1,"labelFontSize":8,"title":["Pa","\u200b\u00a0\u00a0\u00a0\u00a0\u00a0\u00a0KW"],"titleLineHeight":10,"titleX":-2,"titleY":78}}},"layer":[{"transform":[{"filter":"!datum.n"}],"mark":"line"},{"transform":[{"filter":"datum.n"}],"mark":{"type":"line","strokeWidth":0.8}},{"transform":[{"filter":"datum.t"}],"mark":"text","encoding":{"text":{"field":"t"}}}]}
]},
{"width":133,"height":145,"title":{"text":"50WFB-A"},"resolve":{"scale":{"x":"independent","y":"independent"},"axis":{"x":"independent","y":"independent"}},"layer":[
{"data":{"name":"g"},"transform":[{"filter":"datum.p=='50WFB-A'"}],"mark":{"type":"point","opacity":0},"encoding":{"x":{"field":"cols","type":"quantitative","scale":{"domain":[0,20],"nice":false,"zero":false},"axis":{"orient":"bottom","grid":true,"labels":false,"tickCount":20,"title":null}},"y":{"field":"rows","type":"quantitative","scale":{"domain":[0,24],"nice":false,"zero":false},"axis":{"orient":"left","grid":true,"labels":false,"tickCount":24,"title":null}}}},
{"data":{"name":"c"},"transform":[{"filter":"datum.p=='50WFB-A'&&datum.c=='H'"}],"encoding":{"x":{"field":"q","type":"quantitative","scale":{"domain":[0,20],"range":[0,132.7],"nice":false,"zero":false},"axis":{"orient":"bottom","values":[0,4,8,12,16,20],"format":".2~f","title":"m3/h","titleX":138}},"y":{"field":"v","type":"quantitative","scale":{"domain":[22,30],"range":[52.7,0.7],"nice":false,"zero":false},"axis":{"orient":"left","values":[22,24,26,28,30],"format":".2~f","title":"H(m)","titleY":-11}}},"layer":[{"transform":[{"filter":"!datum.n"}],"mark":"line"},{"transform":[{"filter":"datum.n"}],"mark":{"type":"line","strokeWidth":0.8}},{"transform":[{"filter":"datum.t"}],"mark":"text","encoding":{"text":{"field":"t"}}}]},
{"data":{"name":"c"},"transform":[{"filter":"datum.p=='50WFB-A'&&datum.c=='E'"}],"encoding":{"x":{"field":"q","type":"quantitative","scale":{"domain":[0,20],"range":[0,132.7],"nice":false,"zero":false},"axis":null},"y":{"field":"v","type":"quantitative","scale":{"domain":[0,25],"range":[116.7,48.3],"nice":false,"zero":false},"axis":{"orient":"right","offset":1,"values":[0,5,10,15,20,25],"format":".2~f","title":"η%","titleX":9,"titleY":36}}},"layer":[{"transform":[{"filter":"!datum.n"}],"mark":"line"},{"transform":[{"filter":"datum.n"}],"mark":{"type":"line","strokeWidth":0.8}},{"transform":[{"filter":"datum.t"}],"mark":"text","encoding":{"text":{"field":"t"}}}]},
{"data":{"name":"c"},"transform":[{"filter":"datum.p=='50WFB-A'&&datum.c=='P'"}],"encoding":{"x":{"field":"q","type":"quantitative","scale":{"domain":[0,20],"range":[0,132.7],"nice":false,"zero":false},"axis":null},"y":{"field":"v","type":"quantitative","scale":{"domain":[3,6],"range":[138.3,96.7],"nice":false,"zero":false},"axis":{"orient":"right","offset":24,"values":[3,4,5,6],"format":".2~f","domain":true,"ticks":true,"tickSize":2,"labelPadding":1,"labelFontSize":8,"title":["Pa","\u200b\u00a0\u00a0\u00a0\u00a0\u00a0\u00a0KW"],"titleLineHeight":10,"titleX":-2,"titleY":76}}},"layer":[{"transform":[{"filter":"!datum.n"}],"mark":"line"},{"transform":[{"filter":"datum.n"}],"mark":{"type":"line","strokeWidth":0.8}},{"transform":[{"filter":"datum.t"}],"mark":"text","encoding":{"text":{"field":"t"}}}]}
]},
{"width":127,"height":145,"title":{"text":"50WFB-A1"},"resolve":{"scale":{"x":"independent","y":"independent"},"axis":{"x":"independent","y":"independent"}},"layer":[
{"data":{"name":"g"},"transform":[{"filter":"datum.p=='50WFB-A1'"}],"mark":{"type":"point","opacity":0},"encoding":{"x":{"field":"cols","type":"quantitative","scale":{"domain":[0,20],"nice":false,"zero":false},"axis":{"orient":"bottom","grid":true,"labels":false,"tickCount":20,"title":null}},"y":{"field":"rows","type":"quantitative","scale":{"domain":[0,24],"nice":false,"zero":false},"axis":{"orient":"left","grid":true,"labels":false,"tickCount":24,"title":null}}}},
{"data":{"name":"c"},"transform":[{"filter":"datum.p=='50WFB-A1'&&datum.c=='H'"}],"encoding":{"x":{"field":"q","type":"quantitative","scale":{"domain":[0,20],"range":[0,127.3],"nice":false,"zero":false},"axis":{"orient":"bottom","values":[0,4,8,12,16,20],"format":".2~f","title":"m3/h","titleX":135}},"y":{"field":"v","type":"quantitative","scale":{"domain":[8,22],"range":[94.7,6.7],"nice":false,"zero":false},"axis":{"orient":"left","values":[8,10,12,14,16,18,20,22],"format":".2~f","title":"H(m)"}}},"layer":[{"transform":[{"filter":"!datum.n"}],"mark":"line"},{"transform":[{"filter":"datum.n"}],"mark":{"type":"line","strokeWidth":0.8}},{"transform":[{"filter":"datum.t"}],"mark":"text","encoding":{"text":{"field":"t"}}}]},
{"data":{"name":"c"},"transform":[{"filter":"datum.p=='50WFB-A1'&&datum.c=='E'"}],"encoding":{"x":{"field":"q","type":"quantitative","scale":{"domain":[0,20],"range":[0,127.3],"nice":false,"zero":false},"axis":null},"y":{"field":"v","type":"quantitative","scale":{"domain":[0,25],"range":[104.7,44],"nice":false,"zero":false},"axis":{"orient":"right","offset":0,"values":[0,5,10,15,20,25],"format":".2~f","title":"η%","titleX":9,"titleY":30}}},"layer":[{"transform":[{"filter":"!datum.n"}],"mark":"line"},{"transform":[{"filter":"datum.n"}],"mark":{"type":"line","strokeWidth":0.8}},{"transform":[{"filter":"datum.t"}],"mark":"text","encoding":{"text":{"field":"t"}}}]},
{"data":{"name":"c"},"transform":[{"filter":"datum.p=='50WFB-A1'&&datum.c=='P'"}],"encoding":{"x":{"field":"q","type":"quantitative","scale":{"domain":[0,20],"range":[0,127.3],"nice":false,"zero":false},"axis":null},"y":{"field":"v","type":"quantitative","scale":{"domain":[1,5],"range":[139,88],"nice":false,"zero":false},"axis":{"orient":"right","offset":16,"values":[1,2,3,4,5],"format":".2~f","domain":true,"ticks":true,"tickSize":2,"labelPadding":1,"labelFontSize":8,"title":"Pa","titleX":0,"titleY":75.7}}},"layer":[{"transform":[{"filter":"!datum.n"}],"mark":"line"},{"transform":[{"filter":"datum.n"}],"mark":{"type":"line","strokeWidth":0.8}},{"transform":[{"filter":"datum.t"}],"mark":"text","encoding":{"text":{"field":"t"}}}]}
]},
{"width":125,"height":148,"title":{"text":"50WFB-AD"},"resolve":{"scale":{"x":"independent","y":"independent"},"axis":{"x":"independent","y":"independent"}},"layer":[
{"data":{"name":"g"},"transform":[{"filter":"datum.p=='50WFB-AD'"}],"mark":{"type":"point","opacity":0},"encoding":{"x":{"field":"cols","type":"quantitative","scale":{"domain":[0,13],"nice":false,"zero":false},"axis":{"orient":"bottom","grid":true,"labels":false,"tickCount":13,"title":null}},"y":{"field":"rows","type":"quantitative","scale":{"domain":[0,24],"nice":false,"zero":false},"axis":{"orient":"left","grid":true,"labels":false,"tickCount":24,"title":null}}}},
{"data":{"name":"c"},"transform":[{"filter":"datum.p=='50WFB-AD'&&datum.c=='H'"}],"encoding":{"x":{"field":"q","type":"quantitative","scale":{"domain":[0,10],"range":[0,105.7],"nice":false,"zero":false},"axis":{"orient":"bottom","values":[0,2,4,6,8,10],"format":".2~f","title":"m3/h","titleX":135}},"y":{"field":"v","type":"quantitative","scale":{"domain":[6,14],"range":[65.7,14.3],"nice":false,"zero":false},"axis":{"orient":"left","values":[6,8,10,12,14],"format":".2~f","title":"H(m)"}}},"layer":[{"transform":[{"filter":"!datum.n"}],"mark":"line"},{"transform":[{"filter":"datum.n"}],"mark":{"type":"line","strokeWidth":0.8}},{"transform":[{"filter":"datum.t"}],"mark":"text","encoding":{"text":{"field":"t"}}}]},
{"data":{"name":"c"},"transform":[{"filter":"datum.p=='50WFB-AD'&&datum.c=='E'"}],"encoding":{"x":{"field":"q","type":"quantitative","scale":{"domain":[0,10],"range":[0,105.7],"nice":false,"zero":false},"axis":null},"y":{"field":"v","type":"quantitative","scale":{"domain":[0,25],"range":[107.7,46.7],"nice":false,"zero":false},"axis":{"orient":"right","offset":1,"values":[0,5,10,15,20,25],"format":".2~f","title":"η%","titleX":9,"titleY":34.3}}},"layer":[{"transform":[{"filter":"!datum.n"}],"mark":"line"},{"transform":[{"filter":"datum.n"}],"mark":{"type":"line","strokeWidth":0.8}},{"transform":[{"filter":"datum.t"}],"mark":"text","encoding":{"text":{"field":"t"}}}]},
{"data":{"name":"c"},"transform":[{"filter":"datum.p=='50WFB-AD'&&datum.c=='P'"}],"encoding":{"x":{"field":"q","type":"quantitative","scale":{"domain":[0,10],"range":[0,105.7],"nice":false,"zero":false},"axis":null},"y":{"field":"v","type":"quantitative","scale":{"domain":[1,1.4],"range":[134.3,84.3],"nice":false,"zero":false},"axis":{"orient":"right","offset":17,"values":[1,1.1,1.2,1.3,1.4],"format":".2~f","domain":true,"ticks":true,"tickSize":2,"labelPadding":1,"labelFontSize":8,"title":"Pa","titleX":-1,"titleY":74.3}}},"layer":[{"transform":[{"filter":"!datum.n"}],"mark":"line"},{"transform":[{"filter":"datum.n"}],"mark":{"type":"line","strokeWidth":0.8}},{"transform":[{"filter":"datum.t"}],"mark":"text","encoding":{"text":{"field":"t"}}}]}
]},
{"width":131,"height":148,"title":{"text":"50WFB-AD1"},"resolve":{"scale":{"x":"independent","y":"independent"},"axis":{"x":"independent","y":"independent"}},"layer":[
{"data":{"name":"g"},"transform":[{"filter":"datum.p=='50WFB-AD1'"}],"mark":{"type":"point","opacity":0},"encoding":{"x":{"field":"cols","type":"quantitative","scale":{"domain":[0,14],"nice":false,"zero":false},"axis":{"orient":"bottom","grid":true,"labels":false,"tickCount":14,"title":null}},"y":{"field":"rows","type":"quantitative","scale":{"domain":[0,24],"nice":false,"zero":false},"axis":{"orient":"left","grid":true,"labels":false,"tickCount":24,"title":null}}}},
{"data":{"name":"c"},"transform":[{"filter":"datum.p=='50WFB-AD1'&&datum.c=='H'"}],"encoding":{"x":{"field":"q","type":"quantitative","scale":{"domain":[0,16],"range":[0,131],"nice":false,"zero":false},"axis":{"orient":"bottom","values":[0,4,8,12,16],"format":".2~f","labelFontSize":{"condition":{"test":"datum.value==0","value":13},"value":9},"title":"m3/h","titleX":144}},"y":{"field":"v","type":"quantitative","scale":{"domain":[2,10],"range":[61,3.3],"nice":false,"zero":false},"axis":{"orient":"left","values":[2,4,6,8,10],"format":".2~f","title":"H(m)","titleY":-10}}},"layer":[{"transform":[{"filter":"!datum.n"}],"mark":"line"},{"transform":[{"filter":"datum.n"}],"mark":{"type":"line","strokeWidth":0.8}},{"transform":[{"filter":"datum.t"}],"mark":"text","encoding":{"text":{"field":"t"}}}]},
{"data":{"name":"c"},"transform":[{"filter":"datum.p=='50WFB-AD1'&&datum.c=='E'"}],"encoding":{"x":{"field":"q","type":"quantitative","scale":{"domain":[0,16],"range":[0,131],"nice":false,"zero":false},"axis":null},"y":{"field":"v","type":"quantitative","scale":{"domain":[0,20],"range":[115.7,57.7],"nice":false,"zero":false},"axis":{"orient":"right","offset":2,"values":[0,5,10,15,20],"format":".2~f","title":"η%","titleX":9,"titleY":44}}},"layer":[{"transform":[{"filter":"!datum.n"}],"mark":"line"},{"transform":[{"filter":"datum.n"}],"mark":{"type":"line","strokeWidth":0.8}},{"transform":[{"filter":"datum.t"}],"mark":"text","encoding":{"text":{"field":"t"}}}]},
{"data":{"name":"c"},"transform":[{"filter":"datum.p=='50WFB-AD1'&&datum.c=='P'"}],"encoding":{"x":{"field":"q","type":"quantitative","scale":{"domain":[0,16],"range":[0,131],"nice":false,"zero":false},"axis":null},"y":{"field":"v","type":"quantitative","scale":{"domain":[0.8,1.6],"range":[141.7,81],"nice":false,"zero":false},"axis":{"orient":"right","offset":30,"values":[0.8,1,1.2,1.4,1.6],"format":".2~f","domain":true,"ticks":true,"tickSize":2,"labelPadding":1,"labelFontSize":9,"title":["Pa","\u200b\u00a0\u00a0\u00a0\u00a0\u00a0\u00a0KW"],"titleLineHeight":10,"titleX":-4,"titleY":60}}},"layer":[{"transform":[{"filter":"!datum.n"}],"mark":"line"},{"transform":[{"filter":"datum.n"}],"mark":{"type":"line","strokeWidth":0.8}},{"transform":[{"filter":"datum.t"}],"mark":"text","encoding":{"text":{"field":"t"}}}]}
]},
{"width":128,"height":148,"title":{"text":"50WFB-B1-2"},"resolve":{"scale":{"x":"independent","y":"independent"},"axis":{"x":"independent","y":"independent"}},"layer":[
{"data":{"name":"g"},"transform":[{"filter":"datum.p=='50WFB-B1-2'"}],"mark":{"type":"point","opacity":0},"encoding":{"x":{"field":"cols","type":"quantitative","scale":{"domain":[0,20],"nice":false,"zero":false},"axis":{"orient":"bottom","grid":true,"labels":false,"tickCount":20,"title":null}},"y":{"field":"rows","type":"quantitative","scale":{"domain":[0,24],"nice":false,"zero":false},"axis":{"orient":"left","grid":true,"labels":false,"tickCount":24,"title":null}}}},
{"data":{"name":"c"},"transform":[{"filter":"datum.p=='50WFB-B1-2'&&datum.c=='H'"}],"encoding":{"x":{"field":"q","type":"quantitative","scale":{"domain":[0,20],"range":[0.7,127.3],"nice":false,"zero":false},"axis":{"orient":"bottom","values":[0,4,8,12,16,20],"format":".2~f","title":"m3/h","titleX":134}},"y":{"field":"v","type":"quantitative","scale":{"domain":[10,50],"range":[61,2.3],"nice":false,"zero":false},"axis":{"orient":"left","values":[10,20,30,40,50],"format":".2~f","title":"H(m)","titleY":-10}}},"layer":[{"transform":[{"filter":"!datum.n"}],"mark":"line"},{"transform":[{"filter":"datum.n"}],"mark":{"type":"line","strokeWidth":0.8}},{"transform":[{"filter":"datum.t"}],"mark":"text","encoding":{"text":{"field":"t"}}}]},
{"data":{"name":"c"},"transform":[{"filter":"datum.p=='50WFB-B1-2'&&datum.c=='E'"}],"encoding":{"x":{"field":"q","type":"quantitative","scale":{"domain":[0,20],"range":[0.7,127.3],"nice":false,"zero":false},"axis":null},"y":{"field":"v","type":"quantitative","scale":{"domain":[0,40],"range":[94,31],"nice":false,"zero":false},"axis":{"orient":"right","offset":1,"values":[0,10,20,30,40],"format":".2~f","labelExpr":"datum.value==40?'25':datum.label","title":"η%","titleX":8,"titleY":19}}},"layer":[{"transform":[{"filter":"!datum.n"}],"mark":"line"},{"transform":[{"filter":"datum.n"}],"mark":{"type":"line","strokeWidth":0.8}},{"transform":[{"filter":"datum.t"}],"mark":"text","encoding":{"text":{"field":"t"}}}]},
{"data":{"name":"c"},"transform":[{"filter":"datum.p=='50WFB-B1-2'&&datum.c=='P'"}],"encoding":{"x":{"field":"q","type":"quantitative","scale":{"domain":[0,20],"range":[0.7,127.3],"nice":false,"zero":false},"axis":null},"y":{"field":"v","type":"quantitative","scale":{"domain":[3,7],"range":[141.7,76.7],"nice":false,"zero":false},"axis":{"orient":"right","offset":23,"values":[3,4,5,6,7],"format":".2~f","domain":true,"ticks":true,"tickSize":2,"labelPadding":1,"labelFontSize":9,"title":["Pa","\u200b\u00a0\u00a0\u00a0\u00a0KW"],"titleLineHeight":10,"titleX":-5,"titleY":56}}},"layer":[{"transform":[{"filter":"!datum.n"}],"mark":"line"},{"transform":[{"filter":"datum.n"}],"mark":{"type":"line","strokeWidth":0.8}},{"transform":[{"filter":"datum.t"}],"mark":"text","encoding":{"text":{"field":"t"}}}]}
]}
],
"config":{
"font":"Liberation Sans",
"mark":{"color":"#333"},
"view":{"stroke":"#222","strokeWidth":1.3},
"axis":{"domain":false,"ticks":false,"tickSize":0,"labelFont":"Liberation Sans Narrow","labelFontSize":9,"labelColor":"#333","labelOverlap":false,"labelFlush":false,"grid":false,"gridColor":"#3a3a3a","gridWidth":0.75,"gridOpacity":1,"domainColor":"#333","tickColor":"#333","titleFont":"Liberation Sans Narrow","titleFontSize":9,"titleFontWeight":"normal","titleColor":"#333","titleAngle":0,"titleAlign":"left","titleBaseline":"middle","labelPadding":3},
"axisLeft":{"titleX":-20,"titleY":-8},
"axisBottom":{"titleBaseline":"top","titleY":3},
"line":{"color":"#333","strokeWidth":1.3},
"text":{"font":"Liberation Sans Narrow","fontSize":8,"align":"left","baseline":"middle","dx":1,"dy":-2,"color":"#333","fill":"#333"},
"title":{"orient":"bottom","anchor":"middle","frame":"group","font":"DejaVu Sans","fontSize":12,"fontWeight":"bold","color":"#333","offset":3}
}
}
